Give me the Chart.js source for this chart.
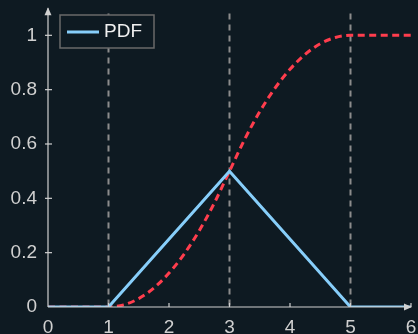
<!DOCTYPE html>
<html>
<head>
<meta charset="utf-8">
<script src="https://cdn.jsdelivr.net/npm/chart.js@4"></script>
<style>
  html, body { margin: 0; padding: 0; background: #0e1a22; }
  #wrap { width: 418px; height: 334px; }
</style>
</head>
<body>
<div id="wrap"><canvas id="chart"></canvas></div>
<script>
// values
const pdfX = [0, 1, 3, 5, 6];
const pdfY = [0, 0, 0.5, 0, 0];
const cdfX = [0, 1, 1.25, 1.5, 1.75, 2, 2.25, 2.5, 2.75, 3, 3.25, 3.5, 3.75, 4, 4.25, 4.5, 4.75, 5, 6];
const cdfY = [0, 0, 0.008, 0.031, 0.07, 0.125, 0.195, 0.281, 0.383, 0.5, 0.617, 0.719, 0.805, 0.875, 0.93, 0.969, 0.992, 1, 1];
const markerX = [1, 3, 5];
const xTicks = [0, 1, 2, 3, 4, 5, 6];
const yTicks = [0, 0.2, 0.4, 0.6, 0.8, 1];

const bg = '#0e1a22';
const axisColor = '#d0d0d0';
const labelColor = '#d0d0d0';
const fontFamily = '"Liberation Sans", Arial, sans-serif';

const toPoints = (xs, ys) => xs.map((x, i) => ({ x: x, y: ys[i] }));

// dashed verticals behind the lines, axes + legend on top
const decor = {
  id: 'decor',
  beforeDatasetsDraw(chart) {
    const { ctx, chartArea, scales } = chart;
    const top = scales.y.getPixelForValue(1.08);
    ctx.save();
    ctx.strokeStyle = '#8c8c8c';
    ctx.lineWidth = 2;
    ctx.setLineDash([6, 5]);
    markerX.forEach(v => {
      const px = scales.x.getPixelForValue(v);
      ctx.beginPath();
      ctx.moveTo(px, top);
      ctx.lineTo(px, chartArea.bottom);
      ctx.stroke();
    });
    ctx.restore();
  },
  afterDraw(chart) {
    const { ctx, chartArea, scales } = chart;
    const x0 = scales.x.getPixelForValue(0);
    const y0 = scales.y.getPixelForValue(0);
    const yTop = scales.y.getPixelForValue(1.1);
    ctx.save();
    ctx.strokeStyle = axisColor;
    ctx.fillStyle = axisColor;
    ctx.lineWidth = 1.2;
    // x axis
    ctx.beginPath();
    ctx.moveTo(x0, y0);
    ctx.lineTo(chartArea.right, y0);
    ctx.stroke();
    ctx.beginPath();
    ctx.moveTo(chartArea.right + 1, y0);
    ctx.lineTo(chartArea.right - 7, y0 - 3.5);
    ctx.lineTo(chartArea.right - 7, y0 + 3.5);
    ctx.closePath();
    ctx.fill();
    // y axis
    ctx.beginPath();
    ctx.moveTo(x0, y0);
    ctx.lineTo(x0, yTop);
    ctx.stroke();
    ctx.beginPath();
    ctx.moveTo(x0, yTop - 1);
    ctx.lineTo(x0 - 3.5, yTop + 7);
    ctx.lineTo(x0 + 3.5, yTop + 7);
    ctx.closePath();
    ctx.fill();
    // tick marks
    xTicks.forEach(v => {
      if (v === 0) return;
      const px = scales.x.getPixelForValue(v);
      ctx.beginPath();
      ctx.moveTo(px, y0 - 4);
      ctx.lineTo(px, y0);
      ctx.stroke();
    });
    yTicks.forEach(v => {
      if (v === 0) return;
      const py = scales.y.getPixelForValue(v);
      ctx.beginPath();
      ctx.moveTo(x0 - 3, py);
      ctx.lineTo(x0 + 4, py);
      ctx.stroke();
    });
    // legend
    ctx.setLineDash([]);
    ctx.fillStyle = bg;
    ctx.fillRect(60, 15, 94, 33);
    ctx.strokeStyle = '#6a6a6a';
    ctx.lineWidth = 1.5;
    ctx.strokeRect(60, 15, 94, 33);
    ctx.strokeStyle = '#87cefa';
    ctx.lineWidth = 3;
    ctx.beginPath();
    ctx.moveTo(67, 32);
    ctx.lineTo(99, 32);
    ctx.stroke();
    ctx.fillStyle = '#f0f0f0';
    ctx.font = '19px ' + fontFamily;
    ctx.textBaseline = 'middle';
    ctx.fillText(chart.data.datasets[0].label, 104, 32);
    ctx.restore();
  }
};

new Chart(document.getElementById('chart'), {
  type: 'line',
  data: {
    datasets: [
      {
        label: 'PDF',
        data: toPoints(pdfX, pdfY),
        borderColor: '#87cefa',
        borderWidth: 3,
        pointRadius: 0,
        tension: 0
      },
      {
        label: 'CDF',
        data: toPoints(cdfX, cdfY),
        borderColor: '#ff3d4d',
        borderWidth: 3,
        borderDash: [7, 4.5],
        pointRadius: 0,
        cubicInterpolationMode: 'monotone'
      }
    ]
  },
  options: {
    responsive: true,
    maintainAspectRatio: false,
    animation: false,
    layout: { padding: { top: 0, right: 7, left: 0, bottom: 0 } },
    plugins: {
      legend: { display: false },
      tooltip: { enabled: false }
    },
    scales: {
      x: {
        type: 'linear',
        min: 0,
        max: 6,
        border: { display: false },
        grid: { display: false },
        afterBuildTicks: s => { s.ticks = xTicks.map(v => ({ value: v })); },
        afterFit: s => { s.height = 27; },
        ticks: {
          color: labelColor,
          font: { size: 19, family: fontFamily },
          padding: 1,
          maxRotation: 0,
          autoSkip: false
        }
      },
      y: {
        min: 0,
        max: 1.077,
        border: { display: false },
        grid: { display: false },
        afterBuildTicks: s => { s.ticks = yTicks.map(v => ({ value: v })); },
        afterFit: s => { s.width = 48; },
        ticks: {
          color: labelColor,
          font: { size: 19, family: fontFamily },
          padding: 3,
          callback: v => String(v)
        }
      }
    }
  },
  plugins: [decor]
});
</script>
</body>
</html>
